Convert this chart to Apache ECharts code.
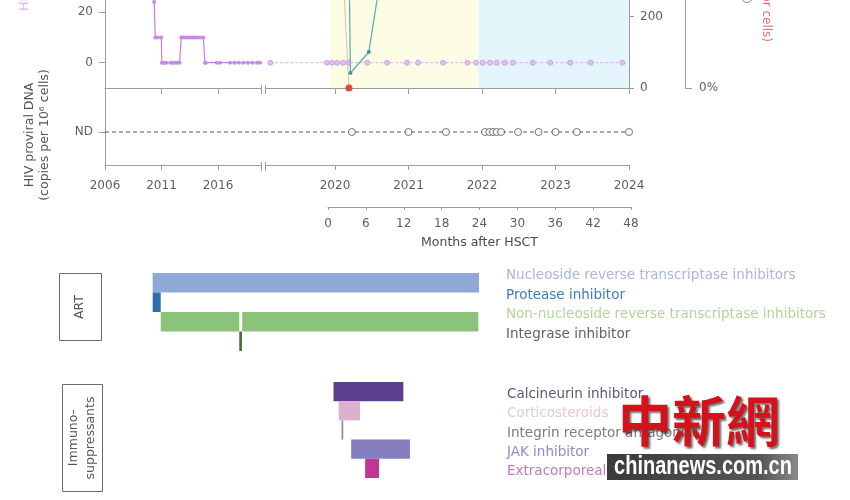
<!DOCTYPE html>
<html><head><meta charset="utf-8">
<script src="https://cdn.jsdelivr.net/npm/echarts@6/dist/echarts.min.js"></script>
<style>html,body{margin:0;padding:0;background:#fff}#c{width:850px;height:500px}</style>
</head><body><div id="c"></div>
<script>
// ---------------- data ----------------
const leftYearTicks = [2006, 2011, 2016];
const rightYearTicks = [2020, 2021, 2022, 2023, 2024];
const monthTicks = [0, 6, 12, 18, 24, 30, 36, 42, 48];
const dnaTicks = [0, 20];
const cd4Ticks = [0, 200];
const chimTicks = [0];

// HIV DNA (top panel) before the axis break
const dnaPreYears = [2010.35, 2010.45, 2010.66, 2010.98, 2011.03, 2011.15, 2011.3, 2011.42, 2011.8, 2012.0, 2012.2, 2012.4, 2012.6, 2012.75, 2012.95, 2013.15, 2013.35, 2013.55, 2013.75, 2013.95, 2014.15, 2014.4, 2014.7, 2014.85, 2014.92, 2015.88, 2016.18, 2017.06, 2017.45, 2017.85, 2018.25, 2018.65, 2019.05, 2019.45, 2019.72];
const dnaPreValues = [24, 10, 10, 10, 0, 0, 0, 0, 0, 0, 0, 0, 0, 10, 10, 10, 10, 10, 10, 10, 10, 10, 10, 0, 0, 0, 0, 0, 0, 0, 0, 0, 0, 0, 0];
// HIV DNA after the break
const dnaPostYears = [2019.12, 2019.89, 2019.96, 2020.03, 2020.11, 2020.18, 2020.44, 2020.71, 2020.98, 2021.13, 2021.47, 2021.8, 2021.92, 2022.01, 2022.11, 2022.2, 2022.31, 2022.42, 2022.69, 2022.93, 2023.2, 2023.48, 2023.91];
const dnaPostValues = [0, 0, 0, 0, 0, 0, 0, 0, 0, 0, 0, 0, 0, 0, 0, 0, 0, 0, 0, 0, 0, 0, 0];
// right-axis count series (teal)
const cd4Years = [2020.17, 2020.21, 2020.46, 2020.78];
const cd4Values = [700, 42, 101, 520];
// percentage series (red)
const chimYears = [2020.1, 2020.19];
const chimValues = [100, 0];
// HIV proviral DNA, all not detected
const ND = 0;
const proviralYears = [2020.23, 2021.0, 2021.51, 2022.04, 2022.1, 2022.15, 2022.2, 2022.26, 2022.49, 2022.77, 2023.0, 2023.29, 2024.0];
const proviralValues = [ND, ND, ND, ND, ND, ND, ND, ND, ND, ND, ND, ND, ND];
// shaded periods
const yellowBand = [2019.93, 2021.95];
const blueBand = [2021.95, 2023.995];
// treatments: [row, start year, end year]
const artDrugs = ['Nucleoside reverse transcriptase inhibitors', 'Protease inhibitor', 'Non-nucleoside reverse transcriptase inhibitors', 'Integrase inhibitor'];
const artPeriods = [[0, 2010.22, 2021.96], [1, 2010.22, 2010.93], [2, 2010.93, 2017.88], [2, 2018.14, 2021.95], [3, 2017.88, 2018.12]];
const immunoDrugs = ['Calcineurin inhibitor', 'Corticosteroids', 'Integrin receptor antagonist', 'JAK inhibitor', 'Extracorporeal photopheresis'];
const immunoPeriods = [[0, 2019.98, 2020.93], [1, 2020.05, 2020.34], [2, 2020.09, 2020.11], [3, 2020.22, 2021.02], [4, 2020.41, 2020.6]];

// ---------------- styles ----------------
const FONT = '"DejaVu Sans", "Liberation Sans", sans-serif';
const AX = '#9c9c9c';
const TXT = '#5f5f5f';
const artColors = ['#8fa8d6', '#2f6fab', '#8cc37a', '#4f6b45'];
const artLabelColors = ['#aab6d6', '#3f7cb8', '#b2d49c', '#5e665c'];
const immunoColors = ['#5c3f8d', '#ddb0cf', '#8a8a8a', '#857fbf', '#c33592'];
const immunoLabelColors = ['#5d5878', '#e3c9dc', '#7c7c7c', '#8e8cc4', '#c07ac0'];

const leftMax = 2006 + 159 / 11.3;
const rightMin = 2024 - 365 / 73.5;
const barMax = rightMin + 240 / 73.5;

function pairs(xs, ys) { return xs.map((x, i) => [x, ys[i]]); }
const ls = { color: AX, width: 1 };

function timeX(grid, min, max, ticks, showLabels, tickLen) {
  return {
    type: 'value', gridIndex: grid, min: min, max: max, z: 1,
    axisLine: { show: true, onZero: false, lineStyle: ls },
    axisTick: { show: true, customValues: ticks, length: tickLen, lineStyle: ls },
    axisLabel: showLabels ? { show: true, customValues: ticks, margin: 15, color: TXT, fontSize: 12, fontFamily: FONT, formatter: v => String(v) } : { show: false },
    splitLine: { show: false }
  };
}
function hiddenAxis(type, grid, min, max) {
  return { type: type, gridIndex: grid, min: min, max: max, show: false, axisLine: { onZero: false } };
}
function barRender(colors) {
  return function (params, api) {
    const row = api.value(0);
    const p0 = api.coord([api.value(1), row]);
    const p1 = api.coord([api.value(2), row]);
    const h = api.size([0, 1])[1];
    const cs = params.coordSys;
    const w = Math.max(p1[0] - p0[0], 1.6);
    const shape = echarts.graphic.clipRectByRect(
      { x: p0[0], y: p0[1] - h / 2, width: w, height: h },
      { x: cs.x, y: cs.y, width: cs.width, height: cs.height });
    if (!shape) return null;
    return { type: 'rect', shape: shape, style: { fill: colors[row] } };
  };
}

const chart = echarts.init(document.getElementById('c'), null, { renderer: 'canvas' });

const option = {
  animation: false,
  backgroundColor: '#fff',
  textStyle: { fontFamily: FONT },
  grid: [
    { left: 105, top: -40, width: 159, height: 128 },
    { left: 264, top: -40, width: 365, height: 128 },
    { left: 105, top: 88, width: 159, height: 77 },
    { left: 264, top: 88, width: 365, height: 77 },
    { left: 328, top: 200, width: 303, height: 7 },
    { left: 105, top: 273, width: 159, height: 78 },
    { left: 264, top: 273, width: 240, height: 78 },
    { left: 264, top: 382, width: 240, height: 96 },
    { left: 264, top: 385, width: 240, height: 96 }
  ].map(g => Object.assign({ outerBoundsMode: 'none', containLabel: false, show: false }, g)),
  xAxis: [
    timeX(0, 2006, leftMax, leftYearTicks, false, 6),
    timeX(1, rightMin, 2024, rightYearTicks, false, 6),
    timeX(2, 2006, leftMax, leftYearTicks, true, 5),
    timeX(3, rightMin, 2024, rightYearTicks, true, 5),
    {
      type: 'value', gridIndex: 4, min: 0, max: 48, interval: 6, z: 1,
      axisLine: { show: true, onZero: false, lineStyle: ls },
      axisTick: { show: true, length: 3, lineStyle: ls },
      axisLabel: { show: true, margin: 11, color: TXT, fontSize: 12, fontFamily: FONT },
      splitLine: { show: false },
      name: 'Months after HSCT', nameLocation: 'middle', nameGap: 29,
      nameTextStyle: { color: '#4a4a4a', fontSize: 12.5, fontFamily: FONT }
    },
    hiddenAxis('value', 5, 2006, leftMax),
    hiddenAxis('value', 6, rightMin, barMax),
    hiddenAxis('value', 7, rightMin, barMax),
    hiddenAxis('value', 8, rightMin, barMax)
  ],
  yAxis: [
    { // 0: HIV DNA left
      type: 'value', gridIndex: 0, min: -10, max: 40.6, z: 1,
      axisLine: { show: true, onZero: false, lineStyle: ls },
      axisTick: { show: true, customValues: dnaTicks, length: 6, lineStyle: ls },
      axisLabel: { show: true, customValues: dnaTicks, margin: 12, color: TXT, fontSize: 12, fontFamily: FONT },
      splitLine: { show: false }
    },
    hiddenAxis('value', 1, -10, 40.6), // 1: HIV DNA right part
    { // 2: teal count axis
      type: 'value', gridIndex: 1, position: 'right', min: 0, max: 359, z: 1,
      axisLine: { show: true, onZero: false, lineStyle: ls },
      axisTick: { show: true, customValues: cd4Ticks, length: 5, lineStyle: ls },
      axisLabel: { show: true, customValues: cd4Ticks, margin: 11, color: TXT, fontSize: 12, fontFamily: FONT },
      splitLine: { show: false }
    },
    { // 3: percentage axis
      type: 'value', gridIndex: 1, position: 'right', offset: 56, min: 0, max: 100, z: 1,
      axisLine: { show: true, onZero: false, lineStyle: ls },
      axisTick: { show: true, customValues: chimTicks, length: 7, lineStyle: ls },
      axisLabel: { show: true, customValues: chimTicks, margin: 14, color: TXT, fontSize: 12, fontFamily: FONT, formatter: v => v + '%' },
      splitLine: { show: false }
    },
    { // 4: ND axis
      type: 'value', gridIndex: 2, min: -3, max: 4, z: 1,
      axisLine: { show: true, onZero: false, lineStyle: ls },
      axisTick: { show: true, customValues: [ND], length: 6, lineStyle: ls },
      axisLabel: { show: true, customValues: [ND], margin: 12, color: TXT, fontSize: 12, fontFamily: FONT, formatter: () => 'ND' },
      splitLine: { show: false }
    },
    hiddenAxis('value', 3, -3, 4), // 5
    hiddenAxis('value', 4, 0, 1), // 6
    { type: 'category', gridIndex: 5, data: artDrugs, inverse: true, show: false }, // 7
    { // 8
      type: 'category', gridIndex: 6, data: artDrugs, inverse: true, position: 'right',
      axisLine: { show: false }, axisTick: { show: false }, splitLine: { show: false },
      axisLabel: { show: true, interval: 0, margin: 2, fontSize: 13.5, fontFamily: FONT, verticalAlign: 'bottom', color: (v, i) => artLabelColors[i] }
    },
    { type: 'category', gridIndex: 7, data: immunoDrugs, inverse: true, show: false }, // 9
    { // 10: immunosuppressant names
      type: 'category', gridIndex: 8, data: immunoDrugs, inverse: true, position: 'right',
      axisLine: { show: false }, axisTick: { show: false }, splitLine: { show: false },
      axisLabel: { show: true, interval: 0, margin: 3, fontSize: 13.5, fontFamily: FONT, verticalAlign: 'middle', color: (v, i) => immunoLabelColors[i] }
    }
  ],
  series: [
    {
      type: 'line', xAxisIndex: 0, yAxisIndex: 0, z: 3,
      data: pairs(dnaPreYears, dnaPreValues),
      symbol: 'circle', symbolSize: 4,
      lineStyle: { color: '#c27fdd', width: 1.2 }, itemStyle: { color: '#c88ae4' }
    },
    {
      type: 'line', xAxisIndex: 1, yAxisIndex: 1, z: 3,
      data: pairs(dnaPostYears, dnaPostValues),
      symbol: 'circle', symbolSize: 5,
      lineStyle: { color: '#d9b2ea', width: 1, type: [3, 2] },
      itemStyle: { color: '#e0c0ef', borderColor: '#c695de', borderWidth: 0.8 },
      markArea: {
        silent: true, z: 0,
        data: [
          [{ xAxis: yellowBand[0], itemStyle: { color: '#fdfce4' } }, { xAxis: yellowBand[1] }],
          [{ xAxis: blueBand[0], itemStyle: { color: '#e3f4fb' } }, { xAxis: blueBand[1] }]
        ]
      }
    },
    {
      type: 'line', xAxisIndex: 1, yAxisIndex: 2, z: 4,
      data: pairs(cd4Years, cd4Values),
      symbol: 'circle', symbolSize: 4,
      lineStyle: { color: '#58b2bd', width: 1.3 }, itemStyle: { color: '#3e95a3' }
    },
    {
      type: 'line', xAxisIndex: 1, yAxisIndex: 3, z: 4,
      data: pairs(chimYears, chimValues),
      symbol: 'circle', symbolSize: 7,
      lineStyle: { color: '#f0b4b4', width: 1 }, itemStyle: { color: '#e04a3a' }
    },
    {
      type: 'line', xAxisIndex: 2, yAxisIndex: 4, z: 3, symbol: 'none',
      data: [[2006, ND], [leftMax, ND]],
      lineStyle: { color: '#555', width: 1, type: [4, 3] }
    },
    {
      type: 'line', xAxisIndex: 3, yAxisIndex: 5, z: 3, symbol: 'none',
      data: [[rightMin, ND], [2024, ND]],
      lineStyle: { color: '#555', width: 1, type: [4, 3] }
    },
    {
      type: 'scatter', xAxisIndex: 3, yAxisIndex: 5, z: 4,
      data: pairs(proviralYears, proviralValues),
      symbol: 'circle', symbolSize: 7,
      itemStyle: { color: '#fff', borderColor: '#555', borderWidth: 1 }
    },
    { type: 'line', xAxisIndex: 4, yAxisIndex: 6, data: [] },
    { type: 'custom', xAxisIndex: 5, yAxisIndex: 7, renderItem: barRender(artColors), data: artPeriods, encode: { x: [1, 2], y: 0 }, silent: true },
    { type: 'custom', xAxisIndex: 6, yAxisIndex: 8, renderItem: barRender(artColors), data: artPeriods, encode: { x: [1, 2], y: 0 }, silent: true },
    { type: 'custom', xAxisIndex: 7, yAxisIndex: 9, renderItem: barRender(immunoColors), data: immunoPeriods, encode: { x: [1, 2], y: 0 }, silent: true },
    { type: 'line', xAxisIndex: 8, yAxisIndex: 10, data: [] }
  ],
  graphic: [
    // axis breaks
    { type: 'rect', shape: { x: 261.5, y: 85, width: 4, height: 9 }, style: { fill: '#fff' }, z: 100 },
    { type: 'line', shape: { x1: 261.5, y1: 85, x2: 261.5, y2: 94 }, style: { stroke: AX, lineWidth: 1 }, z: 101 },
    { type: 'line', shape: { x1: 265.5, y1: 85, x2: 265.5, y2: 94 }, style: { stroke: AX, lineWidth: 1 }, z: 101 },
    { type: 'rect', shape: { x: 261.5, y: 162, width: 4, height: 9 }, style: { fill: '#fff' }, z: 100 },
    { type: 'line', shape: { x1: 261.5, y1: 162, x2: 261.5, y2: 171 }, style: { stroke: AX, lineWidth: 1 }, z: 101 },
    { type: 'line', shape: { x1: 265.5, y1: 162, x2: 265.5, y2: 171 }, style: { stroke: AX, lineWidth: 1 }, z: 101 },
    // axis titles
    { type: 'text', x: 25, y: 11, rotation: Math.PI / 2, z: 100,
      style: { text: 'HIV DNA (copies per 10⁶ cells)', fill: '#dfafee', font: '12.5px ' + FONT, textAlign: 'left', textVerticalAlign: 'middle' } },
    { type: 'text', x: 37, y: 135, rotation: Math.PI / 2, z: 100,
      style: { text: 'HIV proviral DNA\n(copies per 10⁶ cells)', fill: '#555', font: '12.5px ' + FONT, lineHeight: 15, textAlign: 'center', textVerticalAlign: 'middle' } },
    { type: 'text', x: 766, y: 42, rotation: -Math.PI / 2, z: 100,
      style: { text: '(% donor cells)', fill: '#e37070', font: '12px ' + FONT, textAlign: 'right', textVerticalAlign: 'middle' } },
    { type: 'circle', shape: { cx: 747, cy: -3, r: 5.5 }, style: { fill: 'none', stroke: '#8a8a8a', lineWidth: 1 }, z: 100 },
    // group boxes
    { type: 'rect', shape: { x: 59.5, y: 273.5, width: 42, height: 67 }, style: { fill: 'none', stroke: '#6a6a6a', lineWidth: 1 }, z: 100 },
    { type: 'text', x: 80, y: 307, rotation: Math.PI / 2, z: 100,
      style: { text: 'ART', fill: '#555', font: '12.5px ' + FONT, textAlign: 'center', textVerticalAlign: 'middle' } },
    { type: 'rect', shape: { x: 62.5, y: 384.5, width: 40, height: 107 }, style: { fill: 'none', stroke: '#6a6a6a', lineWidth: 1 }, z: 100 },
    { type: 'text', x: 82, y: 438, rotation: Math.PI / 2, z: 100,
      style: { text: 'Immuno-\nsuppressants', fill: '#555', font: '12.5px ' + FONT, lineHeight: 17, textAlign: 'center', textVerticalAlign: 'middle' } },
    // watermark
    { type: 'text', x: 699, y: 421, z: 200,
      style: { text: '中新網', fill: '#d3121b', font: 'bold 54px "Noto Sans CJK TC", sans-serif', textAlign: 'center', textVerticalAlign: 'middle',
        textShadowColor: 'rgba(0,0,0,0.55)', textShadowOffsetX: 2, textShadowOffsetY: 2, textShadowBlur: 2 } },
    { type: 'rect', shape: { x: 607, y: 454, width: 191, height: 26 }, z: 200,
      style: { fill: new echarts.graphic.LinearGradient(0, 0, 1, 0, [{ offset: 0, color: '#3a3a3a' }, { offset: 0.8, color: '#555' }, { offset: 1, color: '#8a8a8a' }]) } },
    { type: 'text', x: 703, y: 467, scaleX: 0.8, z: 201,
      style: { text: 'chinanews.com.cn', fill: '#fff', font: 'bold 25px "Liberation Sans", Arial, sans-serif', textAlign: 'center', textVerticalAlign: 'middle' } }
  ]
};
chart.setOption(option);
</script>
</body></html>
